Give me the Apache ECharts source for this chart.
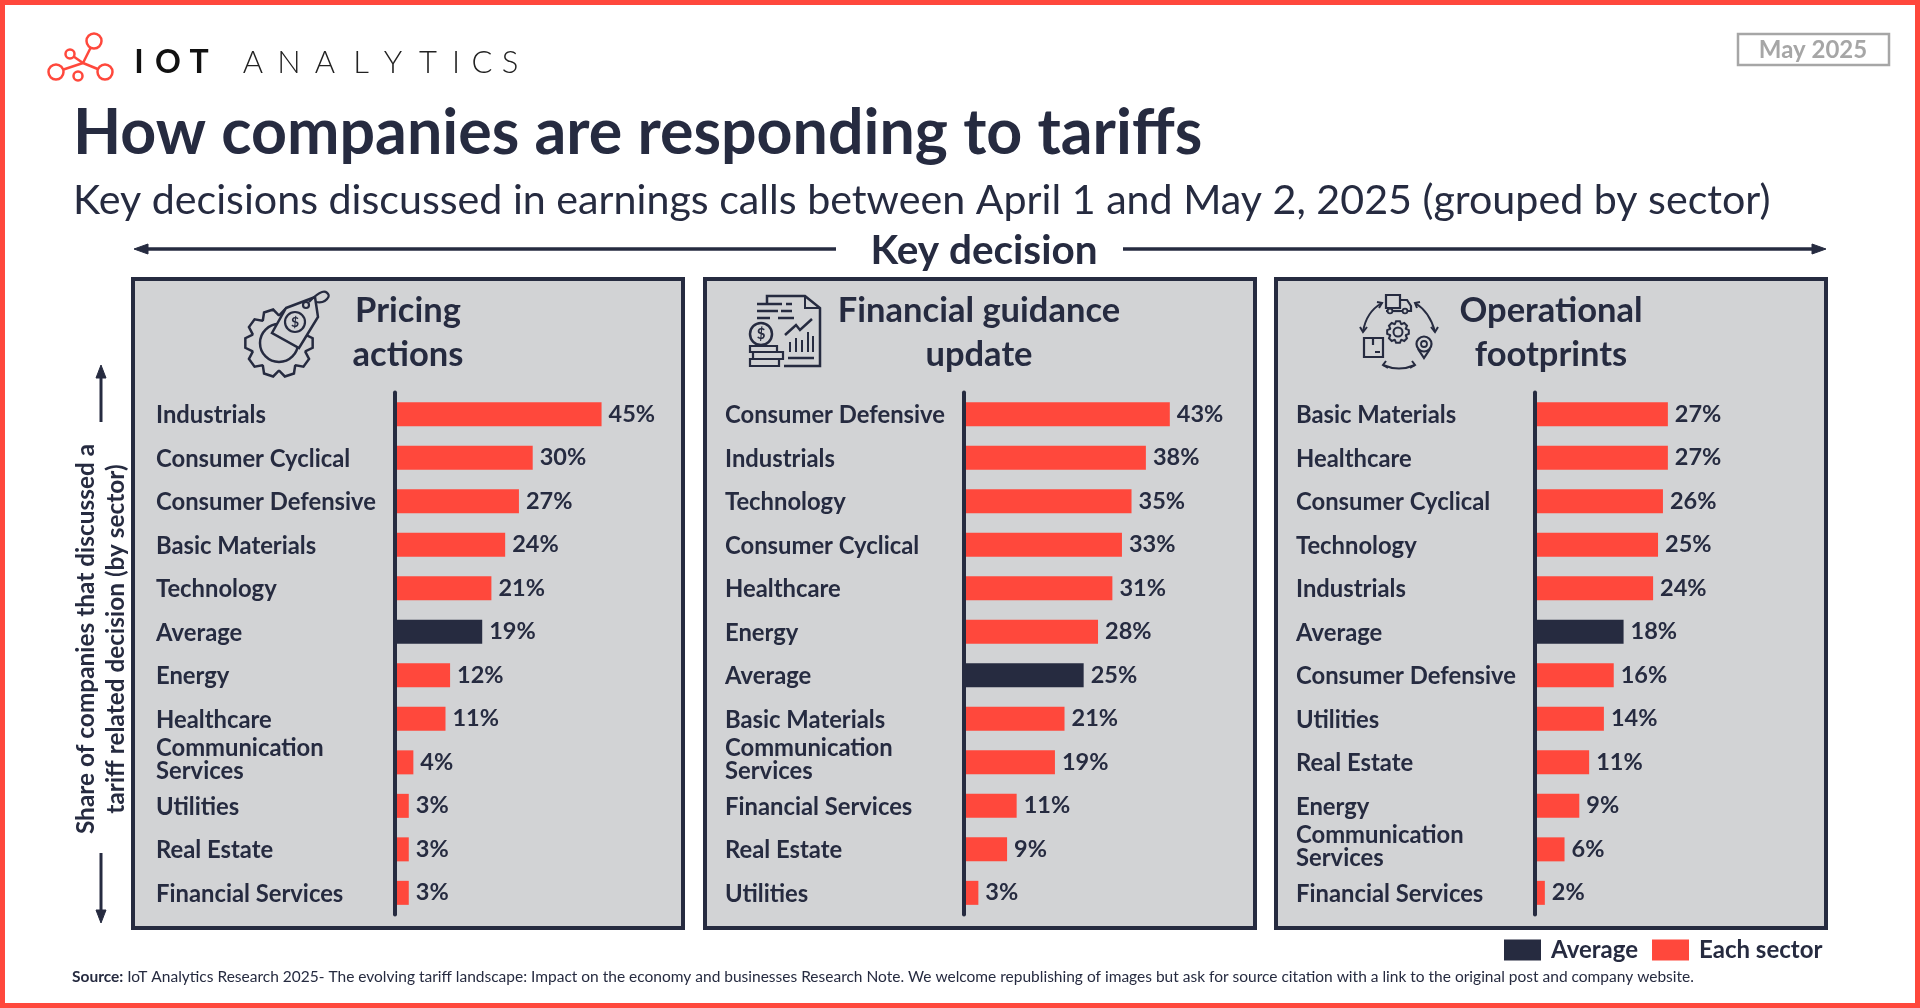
<!DOCTYPE html>
<html>
<head>
<meta charset="utf-8">
<title>How companies are responding to tariffs</title>
<script src="https://cdn.jsdelivr.net/npm/echarts@6/dist/echarts.min.js"></script>
<style>
html,body{margin:0;padding:0;background:#fff;}
#chart{width:1920px;height:1008px;}
</style>
</head>
<body>
<div id="chart"></div>
<script>
var pricingCategories = ['Industrials','Consumer Cyclical','Consumer Defensive','Basic Materials','Technology','Average','Energy','Healthcare','Communication\nServices','Utilities','Real Estate','Financial Services'];
var pricingValues = [45,30,27,24,21,19,12,11,4,3,3,3];
var guidanceCategories = ['Consumer Defensive','Industrials','Technology','Consumer Cyclical','Healthcare','Energy','Average','Basic Materials','Communication\nServices','Financial Services','Real Estate','Utilities'];
var guidanceValues = [43,38,35,33,31,28,25,21,19,11,9,3];
var footprintCategories = ['Basic Materials','Healthcare','Consumer Cyclical','Technology','Industrials','Average','Consumer Defensive','Utilities','Real Estate','Energy','Communication\nServices','Financial Services'];
var footprintValues = [27,27,26,25,24,18,16,14,11,9,6,2];

var navy = '#262B40';
var red = '#FF483C';
var panelGrey = '#D2D3D5';
var font = 'Lato';

var chart = echarts.init(document.getElementById('chart'));

// small helpers for the drawn furniture
function line(x1,y1,x2,y2,w,c){
    return {type:'line',shape:{x1:x1,y1:y1,x2:x2,y2:y2},style:{stroke:c||navy,lineWidth:w||2}};
}
function circle(cx,cy,r,w,c,fill){
    return {type:'circle',shape:{cx:cx,cy:cy,r:r},style:{stroke:c||navy,lineWidth:w||2,fill:fill||'transparent'}};
}
function box(x,y,width,height,w,c,fill){
    return {type:'rect',shape:{x:x,y:y,width:width,height:height},style:{stroke:c||navy,lineWidth:w||2,fill:fill||'transparent'}};
}
function poly(points,w,fill){
    return {type:'polygon',shape:{points:points},style:{stroke:navy,lineWidth:w||2,fill:fill||'transparent'}};
}
function pline(points,w){
    return {type:'polyline',shape:{points:points},style:{stroke:navy,lineWidth:w||2,fill:'transparent'}};
}
function curve(x1,y1,cx,cy,x2,y2,w){
    return {type:'bezierCurve',shape:{x1:x1,y1:y1,cpx1:cx,cpy1:cy,x2:x2,y2:y2},style:{stroke:navy,lineWidth:w||2,fill:'transparent'}};
}
function txt(x,y,text,size,weight,opts){
    opts = opts || {};
    return {type:'text',x:x,y:y,rotation:opts.rotation||0,z:5,style:{
        text:text,font:(weight||'normal')+' '+size+'px '+font,fill:opts.fill||navy,
        textAlign:opts.align||'left',textVerticalAlign:'middle',lineHeight:opts.lineHeight,rich:opts.rich
    }};
}

function gearPoints(cx,cy,r1,r2,teeth){
    var pts = [];
    for(var i=0;i<teeth;i++){
        var a = i/teeth*Math.PI*2, s = Math.PI/teeth;
        pts.push([cx+r1*Math.cos(a-s*0.95),cy+r1*Math.sin(a-s*0.95)]);
        pts.push([cx+r2*Math.cos(a-s*0.45),cy+r2*Math.sin(a-s*0.45)]);
        pts.push([cx+r2*Math.cos(a+s*0.45),cy+r2*Math.sin(a+s*0.45)]);
        pts.push([cx+r1*Math.cos(a+s*0.95),cy+r1*Math.sin(a+s*0.95)]);
    }
    return pts;
}

function pricingIcon(){
    return [
        poly(gearPoints(279,343,28,34,10),2.5),
        circle(279,343,19,2.5),
        poly([[286,308],[315,297],[318,317],[299,348],[272,333]],2.5,panelGrey),
        circle(295,322,10,2.2),
        txt(295,322,'$',14,'bold',{align:'center'}),
        circle(306,305,3,2.2),
        curve(309,302,325,285,329,296,2.2),
        curve(329,296,325,304,316,302,2.2)
    ];
}
function guidanceIcon(){
    return [
        pline([[767,304],[767,296],[805,296],[820,308],[820,366],[784,366]],2.5),
        pline([[805,296],[805,308],[820,308]],2),
        line(757,304,782,304,2.5),line(757,311,778,311,2.5),line(757,318,770,318,2.5),
        line(786,304,792,304,2.5),line(781,311,792,311,2.5),line(778,318,794,318,2.5),
        circle(761,334,11,2.5),
        txt(761,334,'$',15,'bold',{align:'center'}),
        box(750,346,27,6,2.2),box(753,352,30,7,2.2),box(750,359,29,7,2.2),
        pline([[785,335],[796,325],[800,330],[812,319]],2.5),
        line(790,352,790,342,2),line(796,352,796,338,2),line(802,352,802,340,2),line(808,352,808,332,2),line(813,352,813,336,2),
        line(788,358,814,358,2.5)
    ];
}
function footprintIcon(){
    return [
        box(1386,295,14,13,2.2),
        pline([[1400,300],[1407,300],[1411,306],[1411,311],[1400,311]],2.2),
        line(1386,311,1400,311,2.2),
        circle(1390,311,2.4,1.8,navy,panelGrey),circle(1405,311,2.4,1.8,navy,panelGrey),
        poly(gearPoints(1398,332,8.5,11,8),2),
        circle(1398,332,4.5,2),
        box(1364,338,19,19,2.2),
        line(1373,338,1373,345,2.2),line(1375,352,1380,352,2),
        circle(1424,344,7.5,2.2),circle(1424,344,3,1.8),
        pline([[1418,349],[1424,358],[1430,349]],2.2),
        curve(1363,332,1366,312,1382,303,2),
        pline([[1377,302],[1382,303],[1379,308]],2),
        pline([[1360,327],[1363,332],[1367,327]],2),
        curve(1415,303,1430,312,1435,332,2),
        pline([[1420,302],[1415,303],[1417,308]],2),
        pline([[1431,327],[1435,332],[1438,327]],2),
        curve(1383,365,1399,372,1415,365,2),
        pline([[1386,361],[1383,365],[1388,368]],2),
        pline([[1412,361],[1415,365],[1410,368]],2)
    ];
}

function logo(){
    var out = [
        line(83,63,94,41,2.5,red),line(83,63,56,72,2.5,red),line(83,63,105,72,2.5,red),line(83,63,70,54,2.5,red),
        circle(94,41,7.5,2.5,red,'#fff'),circle(70,54,4.5,2.5,red,'#fff'),
        circle(56,72,7.5,2.5,red,'#fff'),circle(105,72,7.5,2.5,red,'#fff'),circle(78,76,4.5,2.5,red,'#fff')
    ];
    var iot = ['I','O','T'], iotX = [139,168,199];
    iot.forEach(function(c,i){ out.push(txt(iotX[i],63,c,32,'bold',{align:'center',fill:'#111'})); });
    var word = ['A','N','A','L','Y','T','I','C','S'], wordX = [253,289,325,361,393,428,456,482,510];
    word.forEach(function(c,i){ out.push(txt(wordX[i],63,c,31,'300',{align:'center',fill:'#222'})); });
    return out;
}

var panels = [
    {x:133,w:550,cats:pricingCategories,vals:pricingValues,axisLeft:395,axisMax:61,head:'Pricing\nactions',headX:408},
    {x:705,w:550,cats:guidanceCategories,vals:guidanceValues,axisLeft:964,axisMax:58.5,head:'Financial guidance\nupdate',headX:979},
    {x:1276,w:550,cats:footprintCategories,vals:footprintValues,axisLeft:1535,axisMax:56.9,head:'Operational\nfootprints',headX:1551}
];

var graphicEls = [
    {type:'rect',z:-2,shape:{x:2.5,y:2.5,width:1915,height:1003},style:{fill:'#fff',stroke:red,lineWidth:5}}
].concat(logo());

panels.forEach(function(p){
    var r = box(p.x,279,p.w,649,4,navy,panelGrey);
    r.z = -1;
    graphicEls.push(r);
    graphicEls.push(txt(p.headX,333,p.head,34.5,'bold',{align:'center',lineHeight:44}));
});

graphicEls = graphicEls.concat(pricingIcon(),guidanceIcon(),footprintIcon());

graphicEls.push(
    box(1738,34,151,31,2.5,'#A6A6A6'),
    txt(1813,50,'May 2025',24,'bold',{align:'center',fill:'#A6A6A6'}),
    txt(73,134,'How companies are responding to tariffs',62.7,'bold'),
    txt(73,201,'Key decisions discussed in earnings calls between April 1 and May 2, 2025 (grouped by sector)',41.2,'normal'),
    txt(984,251,'Key decision',40.5,'bold',{align:'center'}),
    line(140,249,836,249,3.5),
    poly([[134,249],[148,244],[148,254]],1,navy),
    line(1123,249,1820,249,3.5),
    poly([[1826,249],[1812,244],[1812,254]],1,navy),
    txt(101,639,'Share of companies that discussed a\ntariff related decision (by sector)',24.4,'bold',{align:'center',rotation:Math.PI/2,lineHeight:30}),
    line(101,372,101,422,3),
    poly([[101,365],[96,378],[106,378]],1,navy),
    line(101,853,101,916,3),
    poly([[101,923],[96,910],[106,910]],1,navy),
    txt(72,977,'{b|Source:} IoT Analytics Research 2025- The evolving tariff landscape: Impact on the economy and businesses Research Note. We welcome republishing of images but ask for source citation with a link to the original post and company website.',15.5,'normal',{
        rich:{b:{font:'bold 15.5px '+font,fill:navy}}
    })
);

var labelFont = {color:navy,fontFamily:font,fontWeight:'bold',fontSize:23.8};

// two-line labels sit a little higher than their row in the original
function categoryLabel(value){
    var parts = value.split('\n');
    if(parts.length < 2) return value;
    return '{row|'+parts[0]+'}\n{row|'+parts[1]+'}\n{gap| }';
}

var grids = [], xAxes = [], yAxes = [], series = [];
panels.forEach(function(p,i){
    grids.push({left:p.axisLeft,top:392.6,width:280,height:522});
    xAxes.push({type:'value',gridIndex:i,min:0,max:p.axisMax,show:false});
    yAxes.push({
        type:'category',gridIndex:i,inverse:true,data:p.cats,z:4,
        axisLine:{show:true,lineStyle:{color:navy,width:4}},
        axisTick:{show:false},
        axisLabel:{
            margin:239,align:'left',color:navy,fontFamily:font,fontWeight:'bold',fontSize:23.8,lineHeight:23,interval:0,
            padding:[2,0,0,0],
            formatter:categoryLabel,
            rich:{
                row:Object.assign({lineHeight:23},labelFont),
                gap:{fontSize:4,lineHeight:8}
            }
        }
    });
    var label = {show:true,position:'right',distance:7,formatter:'{c}%',color:navy,fontFamily:font,fontWeight:'bold',fontSize:23.5};
    series.push({
        name:'Each sector',type:'bar',stack:'p'+i,xAxisIndex:i,yAxisIndex:i,barWidth:24,
        itemStyle:{color:red},label:label,
        data:p.vals.map(function(v,k){ return p.cats[k]==='Average' ? null : v; })
    });
    series.push({
        name:'Average',type:'bar',stack:'p'+i,xAxisIndex:i,yAxisIndex:i,barWidth:24,
        itemStyle:{color:navy},label:label,
        data:p.vals.map(function(v,k){ return p.cats[k]==='Average' ? v : null; })
    });
});

var option = {
    backgroundColor:'#fff',
    animation:false,
    textStyle:{fontFamily:font},
    legend:{
        data:['Average','Each sector'],selectedMode:false,left:1504,top:938,padding:0,
        icon:'rect',itemWidth:37,itemHeight:21,itemGap:14,
        textStyle:{color:navy,fontFamily:font,fontWeight:'bold',fontSize:24,padding:[2,0,0,5]}
    },
    grid:grids,
    xAxis:xAxes,
    yAxis:yAxes,
    series:series,
    graphic:{elements:graphicEls}
};
chart.setOption(option);
</script>
</body>
</html>
